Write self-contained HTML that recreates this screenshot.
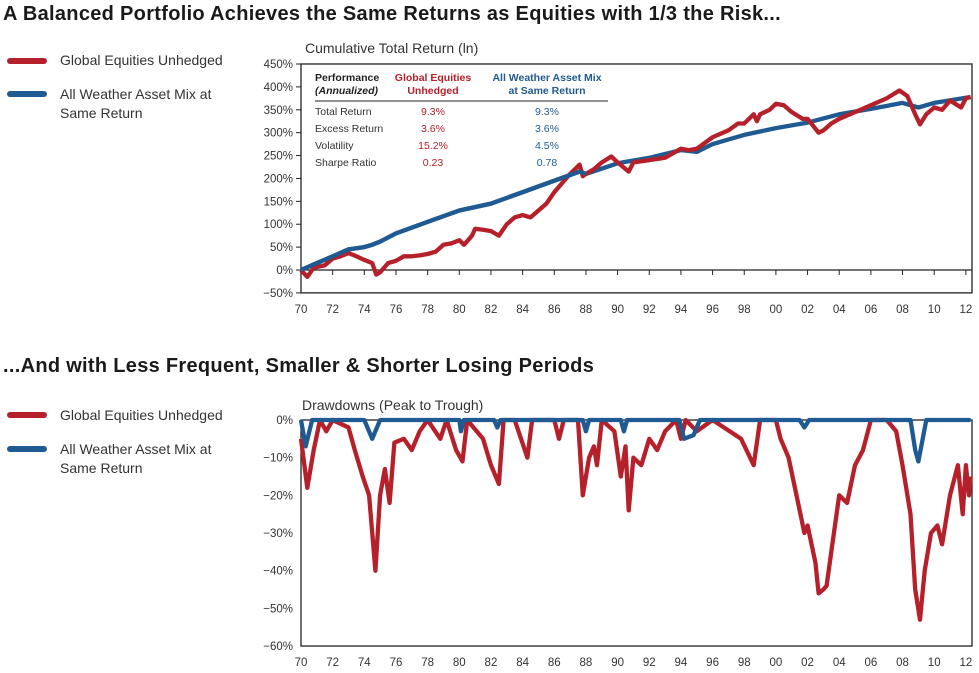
<!DOCTYPE html>
<html><head><meta charset="utf-8"><style>
body{margin:0;background:#fff;font-family:"Liberation Sans",sans-serif;}
#wrap{position:relative;width:979px;height:673px;overflow:hidden;}
.t{position:absolute;font-weight:bold;font-size:20px;color:#1a1a1a;white-space:nowrap;letter-spacing:0.3px}
.leg{position:absolute;font-size:14px;color:#333;line-height:19px}
.sw{position:absolute;width:40px;height:6px;border-radius:3px}
</style></head><body><div id="wrap">
<div class="t" style="left:3px;top:3px">A Balanced Portfolio Achieves the Same Returns as Equities with 1/3 the Risk...</div>
<div class="t" style="left:3px;top:355px">...And with Less Frequent, Smaller &amp; Shorter Losing Periods</div>
<div class="sw" style="left:7px;top:58px;background:#b5202a"></div>
<div class="leg" style="left:60px;top:51px">Global Equities Unhedged</div>
<div class="sw" style="left:7px;top:91px;background:#1f5a92"></div>
<div class="leg" style="left:60px;top:85px">All Weather Asset Mix at<br>Same Return</div>
<div class="sw" style="left:7px;top:412px;background:#b5202a"></div>
<div class="leg" style="left:60px;top:406px">Global Equities Unhedged</div>
<div class="sw" style="left:7px;top:446px;background:#1f5a92"></div>
<div class="leg" style="left:60px;top:440px">All Weather Asset Mix at<br>Same Return</div>
<svg id="svg" width="979" height="673" style="position:absolute;left:0;top:0"></svg>
</div>
<script>
const eqYears=[1970,1970.4,1970.8,1971.5,1972,1972.5,1973,1973.5,1974,1974.5,1974.75,1975,1975.5,1976,1976.5,1977,1977.5,1978,1978.5,1979,1979.5,1980,1980.3,1980.8,1981,1981.5,1982,1982.5,1983,1983.5,1984,1984.5,1985,1985.5,1986,1986.5,1987,1987.6,1987.8,1988,1988.5,1989,1989.6,1990,1990.7,1991,1992,1993,1994,1994.5,1995,1996,1997,1997.6,1998,1998.6,1998.8,1999,1999.6,2000,2000.5,2001,2001.7,2002,2002.7,2003,2003.5,2004,2005,2006,2007,2007.8,2008.3,2008.8,2009.1,2009.5,2010,2010.5,2011,2011.7,2012,2012.3];
const eqCum=[0,-15,5,10,25,30,37,30,22,15,-10,-5,15,20,30,30,32,35,40,55,58,65,55,75,90,88,85,75,100,115,120,115,130,145,170,190,210,230,205,210,220,235,248,235,215,235,240,245,265,262,265,290,305,320,320,340,325,340,350,363,360,345,330,330,300,305,320,330,345,360,375,392,380,340,318,340,355,350,370,355,375,378];
const awYears=[1970,1971,1972,1973,1974,1974.5,1975,1976,1978,1980,1982,1984,1986,1987.6,1988,1990,1992,1994,1995,1996,1998,2000,2002,2004,2006,2008,2009,2010,2012.3];
const awCum=[0,15,30,45,50,55,62,80,105,130,145,170,195,215,210,233,245,262,258,275,295,310,322,340,352,365,355,365,378];
const ddEqYears=[1970,1970.4,1970.8,1971.2,1971.6,1972,1973,1973.4,1973.9,1974.3,1974.7,1975,1975.3,1975.6,1975.9,1976.5,1977,1977.5,1978,1978.8,1979.2,1979.8,1980.2,1980.5,1981.5,1982,1982.5,1982.8,1983.5,1984.3,1984.6,1986,1986.3,1986.6,1987.5,1987.8,1988.2,1988.5,1988.7,1989,1989.8,1990.2,1990.5,1990.7,1991,1991.5,1992,1992.5,1993,1993.7,1994,1994.3,1995,1996,1997.8,1998.6,1999,2000,2000.3,2000.8,2001.3,2001.8,2002,2002.5,2002.7,2003,2003.2,2003.5,2004,2004.5,2005,2005.5,2006,2007,2007.6,2008,2008.5,2008.8,2009.1,2009.4,2009.8,2010.2,2010.5,2011,2011.5,2011.8,2012,2012.2,2012.3];
const ddEq=[-5,-18,-8,0,-3,0,-2,-8,-15,-20,-40,-20,-13,-22,-6,-5,-8,-3,0,-5,0,-8,-11,0,-5,-12,-17,0,0,-10,0,0,-5,0,0,-20,-10,-7,-12,0,-3,-15,-7,-24,-10,-12,-5,-8,-3,0,-5,0,-3,0,-5,-12,0,0,-5,-10,-20,-30,-28,-38,-46,-45,-44,-35,-20,-22,-12,-8,0,0,-3,-12,-25,-45,-53,-40,-30,-28,-33,-20,-12,-25,-12,-20,-15];
const ddAwYears=[1970,1970.3,1970.7,1974,1974.5,1975,1980,1980.1,1980.3,1982.2,1982.4,1982.6,1987.8,1988,1988.2,1990.2,1990.4,1990.6,1993.9,1994.2,1994.8,1995.2,2001.5,2001.8,2002.1,2008.5,2008.8,2009,2009.5,2012.3];
const ddAw=[0,-7,0,0,-5,0,0,-3,0,0,-2,0,0,-3,0,0,-3,0,0,-5,-4,0,0,-2,0,0,-8,-11,0,0];
const topTicks=[450,400,350,300,250,200,150,100,50,0,-50];
const botTicks=[0,-10,-20,-30,-40,-50,-60];
const yearTicks=[70,72,74,76,78,80,82,84,86,88,90,92,94,96,98,0,2,4,6,8,10,12];

const svg=document.getElementById('svg');const NS='http://www.w3.org/2000/svg';
function mk(tag,attrs,parent){const e=document.createElementNS(NS,tag);for(const k in attrs)e.setAttribute(k,attrs[k]);(parent||svg).appendChild(e);return e;}
const X0=301,X1=972;
const xs=y=>X0+(y-1970)*15.83;
const yTop=v=>270-v*0.4578;
let g=mk('g',{});

let t=mk('text',{x:305,y:53,'font-size':14,fill:'#333'},g);t.textContent='Cumulative Total Return (ln)';
mk('rect',{x:X0,y:yTop(450),width:X1-X0,height:yTop(-50)-yTop(450),fill:'none',stroke:'#222','stroke-width':1.3},g);
mk('line',{x1:X0,x2:X1,y1:yTop(0),y2:yTop(0),stroke:'#222','stroke-width':1.3},g);
topTicks.forEach(v=>{mk('line',{x1:X0-5,x2:X0,y1:yTop(v),y2:yTop(v),stroke:'#222'},g);
 const l=mk('text',{x:X0-8,y:yTop(v)+4,'font-size':11.5,fill:'#333','text-anchor':'end'},g);l.textContent=(v<0?'−'+(-v):v)+'%';
 });
yearTicks.forEach(v=>{const yr=v>=70?1900+v:2000+v;const x=xs(yr);
 mk('line',{x1:x,x2:x,y1:yTop(0),y2:yTop(0)+5,stroke:'#222'},g);
 const l=mk('text',{x:x,y:313,'font-size':11.5,fill:'#333','text-anchor':'middle'},g);l.textContent=String(v).padStart(2,'0');
 });
function line(ys,vs,fy,col,parent,name){const d=ys.map((y,i)=>(i?'L':'M')+xs(y).toFixed(1)+','+fy(vs[i]).toFixed(1)).join('');
 const p=mk('path',{d:d,fill:'none',stroke:col,'stroke-width':4.3,'stroke-linejoin':'round'},parent);
 }
line(awYears,awCum,yTop,'#1f5a92',g,'allweather-cumulative-line');
line(eqYears,eqCum,yTop,'#b5202a',g,'equities-cumulative-line');
line(awYears.filter(y=>y<1990),awCum.filter((v,i)=>awYears[i]<1990),yTop,'#1f5a92',g,'allweather-cumulative-line-front');
const tb=mk('g',{'font-size':10.5},g);

const tx=(x,y,s,c,a,w,st)=>{const e=mk('text',{x:x,y:y,fill:c,'text-anchor':a,'font-weight':w||'normal','font-style':st||'normal'},tb);e.textContent=s;};
tx(315,81,'Performance','#222','start','bold');tx(315,94,'(Annualized)','#222','start','bold','italic');
tx(433,81,'Global Equities','#b5202a','middle','bold');tx(433,94,'Unhedged','#b5202a','middle','bold');
tx(547,81,'All Weather Asset Mix','#1f5a92','middle','bold');tx(547,94,'at Same Return','#1f5a92','middle','bold');
mk('line',{x1:315,x2:608,y1:101,y2:101,stroke:'#222'},tb);
[['Total Return','9.3%','9.3%'],['Excess Return','3.6%','3.6%'],['Volatility','15.2%','4.5%'],['Sharpe Ratio','0.23','0.78']].forEach((r,i)=>{
 const y=115+i*17;tx(315,y,r[0],'#333','start');tx(433,y,r[1],'#b5202a','middle');tx(547,y,r[2],'#1f5a92','middle');});
const yB=v=>420-v*3.767;
let g2=mk('g',{});

t=mk('text',{x:302,y:410,'font-size':14,fill:'#333'},g2);t.textContent='Drawdowns (Peak to Trough)';
mk('rect',{x:X0,y:yB(0),width:X1-X0,height:yB(-60)-yB(0),fill:'none',stroke:'#222','stroke-width':1.3},g2);
botTicks.forEach(v=>{const l=mk('text',{x:X0-8,y:yB(v)+4,'font-size':11.5,fill:'#333','text-anchor':'end'},g2);l.textContent=(v<0?'−'+(-v):v)+'%';
 });
yearTicks.forEach(v=>{const yr=v>=70?1900+v:2000+v;
 const l=mk('text',{x:xs(yr),y:666,'font-size':11.5,fill:'#333','text-anchor':'middle'},g2);l.textContent=String(v).padStart(2,'0');
 });
line(ddEqYears,ddEq,yB,'#b5202a',g2,'equities-drawdown-line');
line(ddAwYears,ddAw,yB,'#1f5a92',g2,'allweather-drawdown-line');
</script></body></html>
